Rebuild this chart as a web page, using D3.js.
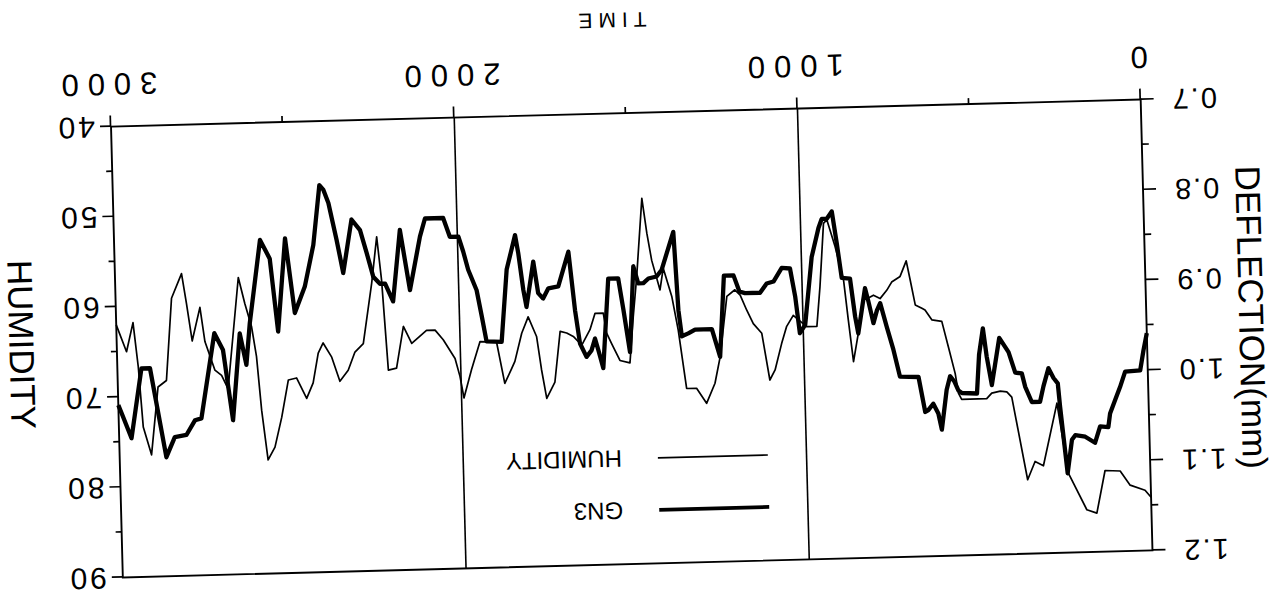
<!DOCTYPE html>
<html>
<head>
<meta charset="utf-8">
<script src="https://cdn.jsdelivr.net/npm/d3@7"></script>
<style>
  html, body { margin: 0; padding: 0; background: #fff; }
  svg { display: block; }
  text { font-family: "Liberation Sans", Arial, Helvetica, sans-serif; fill: #000; }
</style>
</head>
<body>
<svg id="chart" width="1280" height="595"></svg>
<script>
// ---------------- DATA ----------------
const timeTicks = [0, 500, 1000, 1500, 2000, 2500, 3000];
const timeLabels = ["0", "", "1000", "", "2000", "", "3000"];
const timeGrid = [1000, 2000];
const humidityTicks = [40, 45, 50, 55, 60, 65, 70, 75, 80, 85, 90];
const humidityLabels = ["40", "", "50", "", "60", "", "70", "", "80", "", "90"];
const deflectionTicks = [0.7, 0.75, 0.8, 0.85, 0.9, 0.95, 1.0, 1.05, 1.1, 1.15, 1.2];
const deflectionLabels = ["0.7", "", "0.8", "", "0.9", "", "1.0", "", "1.1", "", "1.2"];

// GN3 deflection (mm) vs time
const gn3Time = [0, 11, 22, 66, 82, 97, 113, 119, 143, 159, 187, 216, 226, 241, 258, 263, 275, 289, 305, 316,
  340, 358, 367, 386, 404, 430, 455, 468, 477, 490, 499, 543, 553, 564, 576, 587, 604, 613, 627, 642,
  651, 668, 722, 739, 757, 774, 784, 795, 808, 817, 828, 840, 848, 860, 884, 896, 908, 923, 938, 948,
  970, 994, 1010, 1021, 1034, 1058, 1083, 1103, 1123, 1167, 1183, 1199, 1227, 1244, 1266, 1315, 1335, 1354, 1362, 1371,
  1408, 1423, 1447, 1462, 1477, 1490, 1506, 1522, 1535, 1564, 1585, 1598, 1607, 1618, 1633, 1651, 1663, 1678, 1710, 1739,
  1755, 1769, 1781, 1804, 1812, 1824, 1832, 1859, 1879, 1923, 1935, 1948, 1971, 1984, 1997, 2022, 2040, 2093, 2109, 2142,
  2167, 2192, 2214, 2229, 2248, 2265, 2283, 2307, 2335, 2352, 2373, 2387, 2398, 2420, 2448, 2479, 2502, 2529, 2548, 2575,
  2611, 2624, 2641, 2667, 2691, 2715, 2759, 2778, 2804, 2838, 2864, 2905, 2930, 2964, 2989, 3000];
const gn3Deflection = [0.959, 0.978, 1.000, 1.001, 1.018, 1.032, 1.047, 1.062, 1.061, 1.079, 1.072, 1.070, 1.075, 1.112, 1.038, 1.012, 1.006, 0.995, 1.015, 1.032,
  1.032, 1.015, 1.000, 0.999, 0.976, 0.960, 1.012, 0.980, 0.949, 0.978, 1.021, 1.020, 1.017, 1.007, 1.001, 1.016, 1.060, 1.042, 1.031, 1.038,
  1.040, 1.001, 1.000, 0.970, 0.944, 0.918, 0.926, 0.940, 0.916, 0.901, 0.925, 0.951, 0.932, 0.890, 0.889, 0.850, 0.815, 0.823, 0.823, 0.833,
  0.865, 0.940, 0.949, 0.908, 0.877, 0.876, 0.891, 0.893, 0.903, 0.903, 0.901, 0.883, 0.883, 0.973, 0.942, 0.942, 0.946, 0.949, 0.920, 0.833,
  0.875, 0.882, 0.884, 0.889, 0.889, 0.870, 0.965, 0.918, 0.883, 0.883, 0.982, 0.962, 0.949, 0.962, 0.969, 0.954, 0.917, 0.852, 0.890, 0.892,
  0.903, 0.897, 0.862, 0.912, 0.893, 0.852, 0.832, 0.870, 0.950, 0.949, 0.921, 0.892, 0.869, 0.849, 0.832, 0.832, 0.811, 0.811, 0.831, 0.890,
  0.823, 0.902, 0.882, 0.882, 0.874, 0.848, 0.822, 0.810, 0.869, 0.832, 0.791, 0.776, 0.771, 0.837, 0.883, 0.912, 0.829, 0.932, 0.851, 0.830,
  0.922, 0.968, 0.933, 1.029, 0.951, 0.932, 1.026, 1.028, 1.044, 1.046, 1.068, 0.969, 0.969, 1.046, 1.020, 1.009];

// Humidity (%) vs time
const humTime = [0, 17, 60, 88, 132, 159, 188, 239, 267, 311, 335, 358, 398, 412, 431, 456, 471, 544, 553, 561,
  579, 596, 625, 644, 653, 672, 685, 695, 714, 739, 754, 774, 793, 808, 822, 840, 856, 868, 879, 901,
  923, 933, 948, 960, 990, 1028, 1048, 1064, 1085, 1101, 1121, 1145, 1163, 1181, 1196, 1220, 1244, 1261, 1287, 1315,
  1344, 1364, 1380, 1403, 1414, 1436, 1448, 1460, 1481, 1494, 1507, 1536, 1559, 1573, 1581, 1605, 1621, 1646, 1670, 1689,
  1708, 1727, 1752, 1765, 1777, 1800, 1820, 1842, 1852, 1873, 1894, 1942, 1969, 1993, 2003, 2016, 2049, 2072, 2097, 2141,
  2164, 2187, 2211, 2224, 2235, 2253, 2282, 2307, 2328, 2353, 2375, 2399, 2414, 2431, 2451, 2479, 2503, 2525, 2547, 2568,
  2583, 2594, 2606, 2624, 2641, 2679, 2697, 2716, 2743, 2755, 2780, 2794, 2806, 2837, 2858, 2883, 2907, 2929, 2939, 2951,
  2972, 3000];
const humValue = [84.1, 83.3, 82.7, 81.1, 81.0, 85.7, 85.3, 81.2, 73.4, 80.3, 79.8, 81.8, 72.6, 72.0, 71.9, 72.1, 72.7, 72.7, 72.0, 69.8,
  66.8, 64.0, 63.8, 62.7, 62.5, 62.1, 59.3, 57.2, 58.9, 59.5, 60.4, 61.3, 60.9, 61.2, 60.7, 65.1, 68.2, 63.6, 59.1, 55.4,
  52.4, 52.8, 59.8, 64.2, 64.2, 62.9, 64.1, 66.0, 68.9, 70.0, 64.8, 63.7, 62.2, 60.5, 59.9, 60.6, 67.3, 70.2, 72.4, 70.7,
  70.7, 64.2, 60.5, 57.3, 59.7, 56.4, 53.4, 49.5, 58.2, 62.6, 67.7, 67.4, 65.5, 64.3, 62.1, 62.1, 63.9, 65.6, 64.6, 64.2,
  64.0, 69.6, 71.4, 68.2, 64.5, 62.3, 64.1, 67.2, 68.0, 69.6, 65.0, 64.9, 68.0, 71.1, 68.7, 66.7, 64.6, 63.5, 63.5, 64.9,
  63.0, 67.6, 67.8, 57.8, 53.0, 58.1, 64.8, 65.7, 67.7, 68.9, 66.2, 64.6, 65.7, 69.0, 70.7, 68.4, 68.6, 72.7, 76.0, 77.4,
  71.9, 65.9, 62.6, 60.0, 57.1, 69.4, 67.9, 67.3, 64.1, 60.3, 64.0, 59.8, 56.5, 59.2, 68.3, 69.0, 76.5, 73.4, 66.7, 61.8,
  65.0, 62.0];

const legendNames = ["HUMIDITY", "GN3"];

// ---------------- LAYOUT ----------------
const cx = 631.75, cy = 338.5, angle = 178.5;   // the scanned page is upside down and slightly skewed
const pw = 1030, ph = 451;

const svg = d3.select("#chart");
const g = svg.append("g").attr("transform", `translate(${cx},${cy}) rotate(${angle})`);

const x = d3.scaleLinear().domain([0, 3000]).range([-pw / 2, pw / 2]);
const yH = d3.scaleLinear().domain([40, 90]).range([ph / 2, -ph / 2]);
const yD = d3.scaleLinear().domain([0.7, 1.2]).range([ph / 2, -ph / 2]);

// frame
g.append("rect")
  .attr("x", -pw / 2).attr("y", -ph / 2).attr("width", pw).attr("height", ph)
  .attr("fill", "none").attr("stroke", "#000").attr("stroke-width", 1.9);

// vertical grid lines
g.selectAll("line.grid").data(timeGrid).join("line")
  .attr("class", "grid")
  .attr("x1", d => x(d)).attr("x2", d => x(d))
  .attr("y1", -ph / 2).attr("y2", ph / 2)
  .attr("stroke", "#000").attr("stroke-width", 1.6);

// time axis (bottom)
const xAxisG = g.append("g").attr("transform", `translate(0,${ph / 2})`)
  .call(d3.axisBottom(x).tickValues(timeTicks).tickSize(11).tickPadding(20)
    .tickFormat((d, i) => timeLabels[i]));
xAxisG.select(".domain").remove();
xAxisG.selectAll(".tick line").attr("stroke", "#000").attr("stroke-width", 1.7)
  .attr("y2", (d, i) => timeLabels[i] ? 11 : 6);
xAxisG.selectAll(".tick text")
  .style("font-size", "31px").style("letter-spacing", "9px")
  .attr("dx", "4.5px").attr("fill", "#000");

// humidity axis (right side before rotation)
const hAxisG = g.append("g").attr("transform", `translate(${pw / 2},0)`)
  .call(d3.axisRight(yH).tickValues(humidityTicks).tickSize(11).tickPadding(5)
    .tickFormat((d, i) => humidityLabels[i]));
hAxisG.select(".domain").remove();
hAxisG.selectAll(".tick line").attr("stroke", "#000").attr("stroke-width", 1.7)
  .attr("x2", (d, i) => humidityLabels[i] ? 11 : 6);
hAxisG.selectAll(".tick text")
  .style("font-size", "30px").style("letter-spacing", "3px").attr("fill", "#000");

// deflection axis (left side before rotation)
const dAxisG = g.append("g").attr("transform", `translate(${-pw / 2},0)`)
  .call(d3.axisLeft(yD).tickValues(deflectionTicks).tickSize(13).tickPadding(17)
    .tickFormat((d, i) => deflectionLabels[i]));
dAxisG.select(".domain").remove();
dAxisG.selectAll(".tick line").attr("stroke", "#000").attr("stroke-width", 1.7)
  .attr("x2", (d, i) => deflectionLabels[i] ? -13 : -7);
dAxisG.selectAll(".tick text")
  .style("font-size", "29px").style("letter-spacing", "2px").attr("fill", "#000");

// axis titles
g.append("text").attr("x", 14).attr("y", 326).attr("text-anchor", "middle")
  .style("font-size", "21px").style("letter-spacing", "6px").text("TIME");
g.append("text").attr("transform", "translate(610,10) rotate(-90)")
  .attr("text-anchor", "middle").attr("dy", "0.35em")
  .style("font-size", "35px").text("HUMIDITY");
g.append("text").attr("transform", "translate(-620,5) rotate(-90)")
  .attr("text-anchor", "middle").attr("dy", "0.35em")
  .style("font-size", "35px").text("DEFLECTION(mm)");

// data lines
const gn3 = gn3Time.map((t, i) => ({ t, v: gn3Deflection[i] }));
const hum = humTime.map((t, i) => ({ t, v: humValue[i] }));

g.append("path").datum(hum)
  .attr("fill", "none").attr("stroke", "#000").attr("stroke-width", 1.7)
  .attr("stroke-linejoin", "round")
  .attr("d", d3.line().x(d => x(d.t)).y(d => yH(d.v)));

g.append("path").datum(gn3)
  .attr("fill", "none").attr("stroke", "#000").attr("stroke-width", 4.3)
  .attr("stroke-linejoin", "round")
  .attr("d", d3.line().x(d => x(d.t)).y(d => yD(d.v)));

// legend
const legend = g.append("g").attr("transform", "translate(-133,-120)");
const legendRows = legend.selectAll("g").data(legendNames).join("g")
  .attr("transform", (d, i) => `translate(0,${i * -52})`);
legendRows.append("line").attr("x1", 0).attr("x2", 110).attr("y1", 0).attr("y2", 0)
  .attr("stroke", "#000").attr("stroke-width", (d, i) => i === 0 ? 1.7 : 3.8);
legendRows.append("text").attr("x", 146).attr("dy", "0.36em")
  .style("font-size", "24px").text(d => d);
</script>
</body>
</html>
